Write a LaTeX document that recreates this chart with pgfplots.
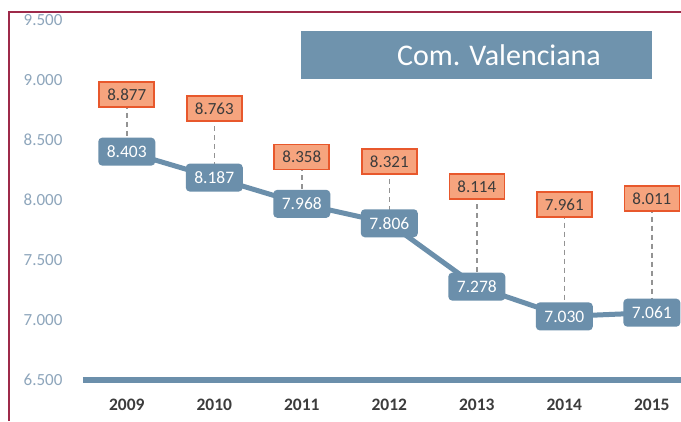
\documentclass[border=0pt]{standalone}
\usepackage{pgfplots}
\usepackage{pgfplotstable}
\pgfplotsset{compat=1.18}
\usepackage{fontspec}
\setmainfont{Carlito}
\definecolor{vblue}{HTML}{6B8FAB}
\definecolor{tblue}{HTML}{6F93AD}
\definecolor{ofill}{HTML}{F6A47E}
\definecolor{odraw}{HTML}{E8582C}
\definecolor{ylab}{HTML}{8EA6BC}
\definecolor{xlab}{HTML}{3C3C3C}
\definecolor{maroon}{HTML}{9E2A4A}
\pgfplotstableread{
x blue orange bl ol
0 8403 8877 8.403 8.877
1 8187 8763 8.187 8.763
2 7968 8358 7.968 8.358
3 7806 8321 7.806 8.321
4 7278 8114 7.278 8.114
5 7030 7961 7.030 7.961
6 7061 8011 7.061 8.011
}\data
\begin{document}
\begin{tikzpicture}[x=1pt,y=1pt]
\useasboundingbox (0,0) rectangle (681,421);
\fill[white] (0,0) rectangle (681,421);
\draw[maroon, line width=1.2pt] (9,0) -- (9,409) -- (681,409);
\begin{axis}[
  at={(83pt,41pt)}, anchor=south west,
  scale only axis, width=598pt, height=360pt,
  xmin=-0.5, xmax=6.333, ymin=6500, ymax=9500,
  clip=false,
  axis line style={draw=none},
  major tick length=0pt,
  xtick={0,...,6},
  xticklabels={2009,2010,2011,2012,2013,2014,2015},
  ytick={6500,7000,7500,8000,8500,9000,9500},
  yticklabels={6.500,7.000,7.500,8.000,8.500,9.000,9.500},
  yticklabel style={font=\fontsize{17}{20}\selectfont, text=ylab, anchor=east, xshift=-17pt},
  xticklabel style={font=\fontsize{17.5}{20}\selectfont\bfseries, text=xlab, anchor=north, yshift=-15pt},
]
\draw[vblue, line width=6pt] (rel axis cs:0,0) -- (rel axis cs:1,0);
\addplot[draw=none, mark=none,
  error bars/.cd, y dir=minus, y explicit, error mark=none,
  error bar style={draw=gray!85, line width=1.5pt, dash pattern=on 5pt off 4pt}]
  table[x=x, y=orange, y error minus expr={\thisrow{orange}-\thisrow{blue}}] {\data};
\addplot[vblue, line width=5pt, line join=round, mark=none] table[x=x, y=blue] {\data};
\addplot[draw=none, mark=none,
  nodes near coords, point meta=explicit symbolic,
  nodes near coords align={center},
  every node near coord/.style={anchor=center, fill=ofill, draw=odraw, line width=1.6pt,
    text=xlab, minimum width=55pt, minimum height=25pt, inner sep=0pt,
    font=\fontsize{17}{20}\selectfont}]
  table[x=x, y=orange, meta=ol] {\data};
\addplot[draw=none, mark=none,
  nodes near coords, point meta=explicit symbolic,
  nodes near coords align={center},
  every node near coord/.style={anchor=center, fill=vblue, rounded corners=4pt,
    text=white, minimum width=57pt, minimum height=28pt, inner sep=0pt,
    font=\fontsize{17.5}{20}\selectfont}]
  table[x=x, y=blue, meta=bl] {\data};
\end{axis}
\fill[tblue] (301,342) rectangle (652,390);
\node[text=white, font=\fontsize{30}{34}\selectfont] at (499,366) {Com. Valenciana};
\end{tikzpicture}
\end{document}
